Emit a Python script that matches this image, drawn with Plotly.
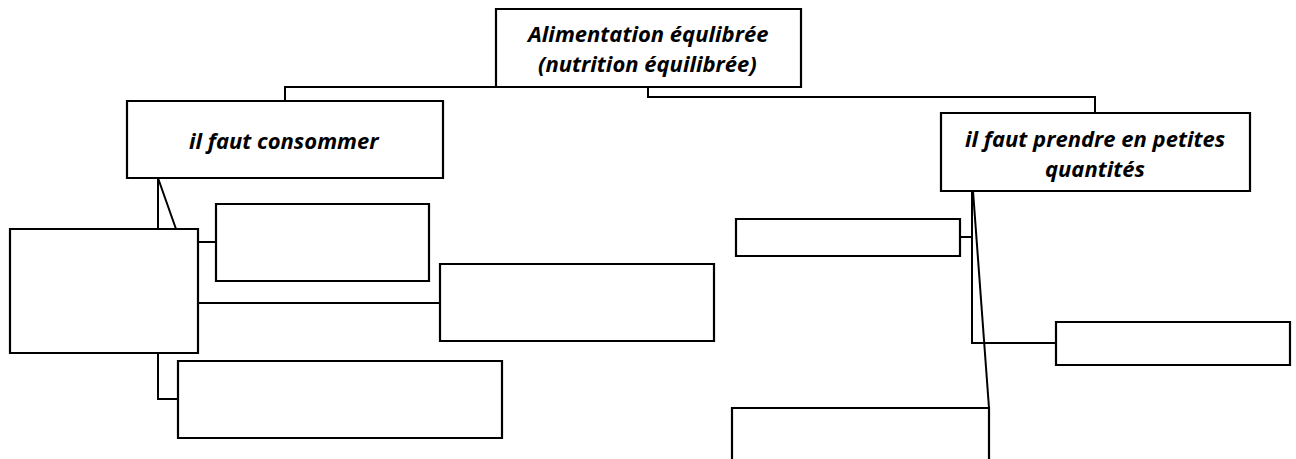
import plotly.graph_objects as go

# Boxes: (x0, y0, x1, y1) in diagram units
box_x0 = [496, 127, 941, 10, 216, 440, 178, 736, 1056, 732]
box_y0 = [9, 101, 113, 229, 204, 264, 361, 219, 322, 408]
box_x1 = [801, 443, 1250, 198, 429, 714, 502, 960, 1290, 989]
box_y1 = [87, 178, 191, 353, 281, 341, 438, 256, 365, 470]

# Text lines: label, centre x, centre y
text_lines = ["Alimentation équlibrée", "(nutrition équilibrée)",
              "il faut consommer",
              "il faut prendre en petites", "quantités"]
text_x = [647, 647, 284, 1095, 1095]
text_y = [33, 63, 140, 138, 168]

# Connector polylines
conn_x = [[496, 285, 285], [648, 648, 1095, 1095],
          [158, 158], [158, 176], [198, 216], [198, 440], [158, 158, 178],
          [972, 972, 1056], [973, 989], [960, 972]]
conn_y = [[87, 87, 101], [87, 97, 97, 113],
          [178, 229], [178, 229], [242, 242], [303, 303], [353, 399, 399],
          [191, 343, 343], [191, 408], [237, 237]]

W, H = 1296, 459
fig = go.Figure()

for xs, ys in zip(conn_x, conn_y):
    fig.add_trace(go.Scatter(x=xs, y=ys, mode="lines",
                             line=dict(color="black", width=2),
                             hoverinfo="skip", showlegend=False))

for x0, y0, x1, y1 in zip(box_x0, box_y0, box_x1, box_y1):
    fig.add_shape(type="rect", x0=x0, y0=y0, x1=x1, y1=y1, xref="x", yref="y",
                  line=dict(color="black", width=2.2), fillcolor="white", layer="above")

for t, tx, ty in zip(text_lines, text_x, text_y):
    fig.add_annotation(x=tx, y=ty, xref="x", yref="y",
                       text="<b><i>" + t + "</i></b>", showarrow=False,
                       font=dict(family="Open Sans", size=22, color="black"),
                       align="center", yanchor="middle")

fig.update_xaxes(range=[0, W], visible=False, fixedrange=True)
fig.update_yaxes(range=[H, 0], visible=False, fixedrange=True)
fig.update_layout(width=W, height=H, margin=dict(l=0, r=0, t=0, b=0),
                  paper_bgcolor="white", plot_bgcolor="white", showlegend=False)
fig.write_html("out.html", config={"displayModeBar": False, "staticPlot": True},
               post_script="document.body.style.margin='0';document.documentElement.style.overflow='hidden';")
